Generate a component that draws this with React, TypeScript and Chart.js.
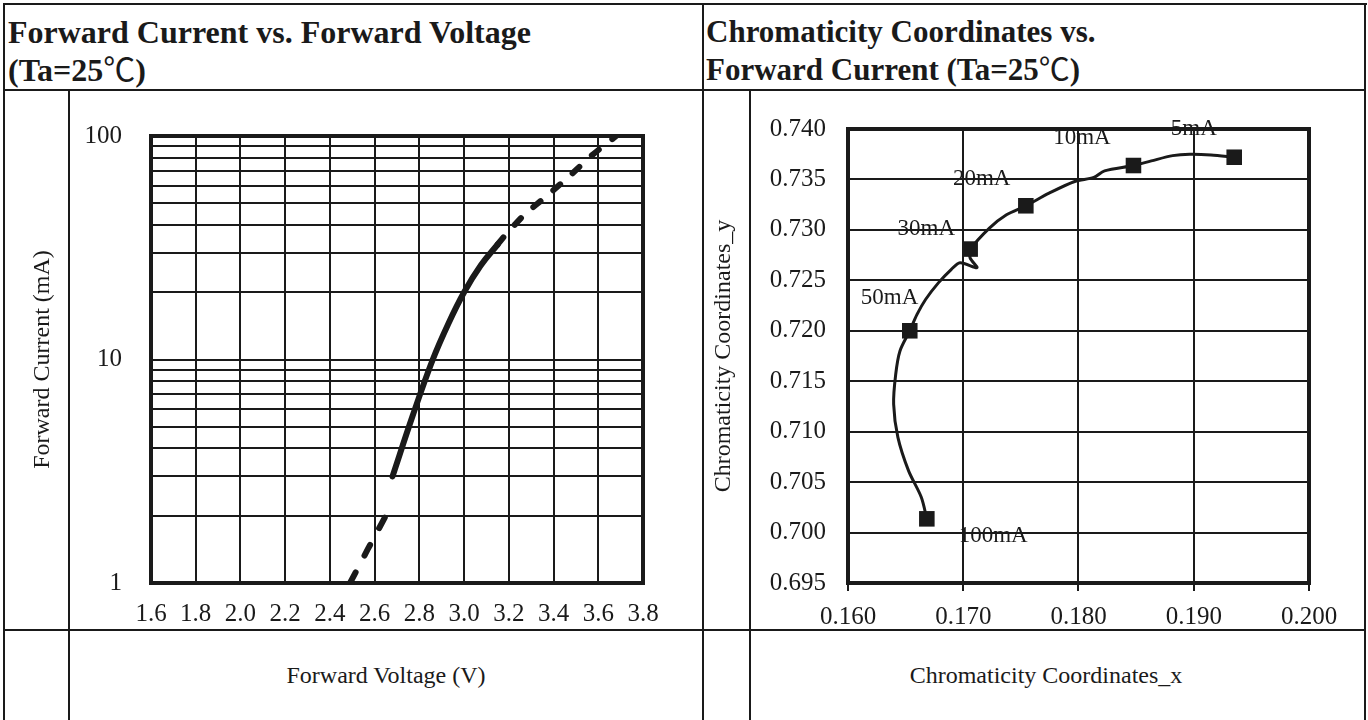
import React, { useEffect, useRef } from "react";
import { Chart, registerables } from "chart.js";

Chart.register(...registerables);

const INK = "#1a1a1a";
const SERIF = "'Liberation Serif', 'Times New Roman', 'Noto Sans CJK SC', serif";

// ---------- Left chart: Forward Current vs. Forward Voltage ----------
const voltageTicks = [1.6, 1.8, 2.0, 2.2, 2.4, 2.6, 2.8, 3.0, 3.2, 3.4, 3.6, 3.8];
const currentTicks = [1, 2, 3, 4, 5, 6, 7, 8, 9, 10, 20, 30, 40, 50, 60, 70, 80, 90, 100];
const currentLabelTicks = [1, 10, 100];
// dashed extrapolation (low end)
const lowVoltage = [2.49, 2.57, 2.65];
const lowCurrent = [1.0, 1.42, 2.0];
// measured (solid) part
const midVoltage = [2.68, 2.77, 2.86, 2.93, 3.0, 3.075, 3.15];
const midCurrent = [3.0, 5.6, 10.0, 14.5, 20.0, 26.4, 32.7];
// dashed extrapolation (high end)
const highVoltage = [3.15, 3.18, 3.27, 3.38, 3.48, 3.57, 3.68];
const highCurrent = [32.7, 35.6, 44.5, 55.0, 67.4, 81.7, 100];

// ---------- Right chart: Chromaticity Coordinates vs. Forward Current ----------
const chromaXTicks = [0.16, 0.17, 0.18, 0.19, 0.2];
const chromaYTicks = [0.695, 0.7, 0.705, 0.71, 0.715, 0.72, 0.725, 0.73, 0.735, 0.74];
const curveX = [
  0.16684, 0.16636, 0.16525, 0.16433, 0.16396, 0.16414, 0.16451, 0.16536, 0.16599, 0.16673,
  0.16784, 0.16895, 0.16972, 0.17119, 0.17059, 0.17067, 0.17227, 0.17375, 0.17543, 0.17745,
  0.17967, 0.18133, 0.18226, 0.18477, 0.18632, 0.18817, 0.18965, 0.1915, 0.19351,
];
const curveY = [
  0.70136, 0.7035, 0.70614, 0.70943, 0.71273, 0.71569, 0.718, 0.72, 0.72162, 0.7231,
  0.72475, 0.72607, 0.72675, 0.72625, 0.72724, 0.72813, 0.73018, 0.7315, 0.73239, 0.73364,
  0.7348, 0.7352, 0.73585, 0.73638, 0.73684, 0.73736, 0.7375, 0.73743, 0.7372,
];
const currentNames = ["5mA", "10mA", "20mA", "30mA", "50mA", "100mA"];
const markerX = [0.19351, 0.18477, 0.17543, 0.1706, 0.16536, 0.16684];
const markerY = [0.7372, 0.73638, 0.73239, 0.7281, 0.72, 0.70136];
const nameX = [0.19, 0.1803, 0.1716, 0.1668, 0.1636, 0.1726];
const nameY = [0.74, 0.7391, 0.735, 0.7301, 0.7233, 0.6997];

const zip = (xs: number[], ys: number[]) => xs.map((x, i) => ({ x, y: ys[i] }));

const framePlugin = {
  id: "frame",
  beforeDatasetsDraw(chart: any, _args: any, opts: any) {
    const { ctx, chartArea: a } = chart;
    ctx.save();
    ctx.strokeStyle = INK;
    ctx.lineWidth = opts.width || 4;
    ctx.strokeRect(a.left, a.top, a.right - a.left, a.bottom - a.top);
    ctx.restore();
  },
};

const nameLabelPlugin = {
  id: "nameLabels",
  afterDatasetsDraw(chart: any) {
    const { ctx, scales } = chart;
    ctx.save();
    ctx.font = `23px ${SERIF}`;
    ctx.fillStyle = INK;
    ctx.textAlign = "center";
    ctx.textBaseline = "middle";
    currentNames.forEach((t, i) => {
      ctx.fillText(t, scales.x.getPixelForValue(nameX[i]), scales.y.getPixelForValue(nameY[i]));
    });
    ctx.restore();
  },
};

const tickFont = { family: SERIF, size: 25 };
const titleFont = { family: SERIF, size: 24 };

function leftConfig(): any {
  const lineBase = {
    borderColor: INK,
    borderWidth: 6,
    pointRadius: 0,
    borderCapStyle: "round",
    borderJoinStyle: "round",
    fill: false,
  };
  return {
    type: "line",
    data: {
      datasets: [
        { ...lineBase, data: zip(midVoltage, midCurrent), tension: 0.4 },
        { ...lineBase, data: zip(lowVoltage, lowCurrent), tension: 0, borderDash: [12, 19] },
        { ...lineBase, data: zip(highVoltage, highCurrent), tension: 0.2, borderDash: [9, 17] },
      ],
    },
    plugins: [framePlugin],
    options: {
      animation: false,
      responsive: false,
      devicePixelRatio: 1,
      layout: { padding: { left: 0, top: 36, right: 57, bottom: 0 } },
      plugins: { legend: { display: false }, tooltip: { enabled: false }, frame: { width: 4 } },
      scales: {
        x: {
          type: "linear",
          min: 1.6,
          max: 3.8,
          afterBuildTicks: (s: any) => {
            s.ticks = voltageTicks.map((v) => ({ value: v }));
          },
          afterFit: (s: any) => {
            s.height = 47;
          },
          grid: { color: INK, lineWidth: 2, drawTicks: false },
          border: { display: false },
          ticks: {
            autoSkip: false,
            maxRotation: 0,
            padding: 16,
            color: INK,
            font: tickFont,
            callback: (v: any) => Number(v).toFixed(1),
          },
        },
        y: {
          type: "logarithmic",
          min: 1,
          max: 100,
          afterBuildTicks: (s: any) => {
            s.ticks = currentTicks.map((v) => ({ value: v }));
          },
          afterFit: (s: any) => {
            s.width = 151;
          },
          grid: { color: INK, lineWidth: 2, drawTicks: false },
          border: { display: false },
          ticks: {
            autoSkip: false,
            padding: 29,
            color: INK,
            font: tickFont,
            callback: (v: any) => (currentLabelTicks.includes(Number(v)) ? String(v) : ""),
          },
          title: {
            display: true,
            text: "Forward Current (mA)",
            color: INK,
            font: titleFont,
            padding: { top: 28, bottom: 0 },
          },
        },
      },
    },
  };
}

function rightConfig(): any {
  return {
    type: "line",
    data: {
      datasets: [
        {
          type: "scatter",
          data: zip(markerX, markerY),
          pointStyle: "rect",
          pointRadius: 11,
          backgroundColor: INK,
          borderWidth: 0,
          showLine: false,
        },
        {
          data: zip(curveX, curveY),
          borderColor: INK,
          borderWidth: 3,
          pointRadius: 0,
          tension: 0.3,
          borderCapStyle: "round",
          borderJoinStyle: "round",
          fill: false,
        },
      ],
    },
    plugins: [framePlugin, nameLabelPlugin],
    options: {
      animation: false,
      responsive: false,
      devicePixelRatio: 1,
      layout: { padding: { left: 0, top: 36, right: 59, bottom: 0 } },
      plugins: { legend: { display: false }, tooltip: { enabled: false }, frame: { width: 4 } },
      scales: {
        x: {
          type: "linear",
          min: 0.16,
          max: 0.2,
          afterBuildTicks: (s: any) => {
            s.ticks = chromaXTicks.map((v) => ({ value: v }));
          },
          afterFit: (s: any) => {
            s.height = 47;
          },
          grid: { color: INK, lineWidth: 2, drawTicks: true, tickLength: 8 },
          border: { display: false },
          ticks: {
            autoSkip: false,
            maxRotation: 0,
            padding: 11,
            color: INK,
            font: tickFont,
            callback: (v: any) => Number(v).toFixed(3),
          },
        },
        y: {
          type: "linear",
          min: 0.695,
          max: 0.74,
          afterBuildTicks: (s: any) => {
            s.ticks = chromaYTicks.map((v) => ({ value: v }));
          },
          afterFit: (s: any) => {
            s.width = 144;
          },
          grid: { color: INK, lineWidth: 2, drawTicks: false },
          border: { display: false },
          ticks: {
            autoSkip: false,
            padding: 22,
            color: INK,
            font: tickFont,
            callback: (v: any) => Number(v).toFixed(3),
          },
          title: {
            display: true,
            text: "Chromaticity Coordinates_y",
            color: INK,
            font: titleFont,
            padding: { top: 5, bottom: 0 },
          },
        },
      },
    },
  };
}

function ChartCanvas(props: { make: () => any; left: number; top: number; width: number; height: number }) {
  const ref = useRef<HTMLCanvasElement | null>(null);
  useEffect(() => {
    if (!ref.current) return;
    const chart = new Chart(ref.current, props.make());
    return () => chart.destroy();
  }, []);
  return (
    <canvas
      ref={ref}
      width={props.width}
      height={props.height}
      style={{
        position: "absolute",
        left: props.left,
        top: props.top,
        width: props.width,
        height: props.height,
        display: "block",
      }}
    />
  );
}

function Rule(p: { l: number; t: number; w: number; h: number }) {
  return (
    <div style={{ position: "absolute", left: p.l, top: p.t, width: p.w, height: p.h, background: INK }} />
  );
}

const headStyle: React.CSSProperties = {
  position: "absolute",
  top: 13,
  fontFamily: SERIF,
  fontWeight: "bold",
  fontSize: 32,
  lineHeight: "38px",
  color: INK,
  whiteSpace: "pre",
};

const footStyle: React.CSSProperties = {
  position: "absolute",
  top: 630,
  height: 90,
  display: "flex",
  alignItems: "center",
  justifyContent: "center",
  fontFamily: SERIF,
  fontSize: 24,
  color: INK,
  whiteSpace: "pre",
};

const degC = <span style={{ fontWeight: "normal" }}>℃</span>;

export default function App() {
  return (
    <div
      style={{
        position: "fixed",
        left: 0,
        top: 0,
        width: 1368,
        height: 720,
        background: "#ffffff",
        overflow: "hidden",
      }}
    >
      <ChartCanvas make={leftConfig} left={0} top={92} width={700} height={538} />
      <ChartCanvas make={rightConfig} left={704} top={92} width={664} height={538} />

      <div style={{ ...headStyle, left: 8 }}>
        {"Forward Current vs. Forward Voltage\n(Ta=25"}
        {degC}
        {")"}
      </div>
      <div style={{ ...headStyle, left: 706, fontSize: 31 }}>
        {"Chromaticity Coordinates vs.\nForward Current (Ta=25"}
        {degC}
        {")"}
      </div>

      <div style={{ ...footStyle, left: 70, width: 632 }}>Forward Voltage (V)</div>
      <div style={{ ...footStyle, left: 751, width: 590 }}>Chromaticity Coordinates_x</div>

      <Rule l={3} t={3} w={1364} h={2} />
      <Rule l={3} t={3} w={2} h={717} />
      <Rule l={1364} t={3} w={2} h={717} />
      <Rule l={3} t={89} w={1363} h={2} />
      <Rule l={3} t={629} w={1363} h={2} />
      <Rule l={702} t={3} w={2} h={717} />
      <Rule l={68} t={90} w={2} h={630} />
      <Rule l={749} t={90} w={2} h={630} />
    </div>
  );
}
